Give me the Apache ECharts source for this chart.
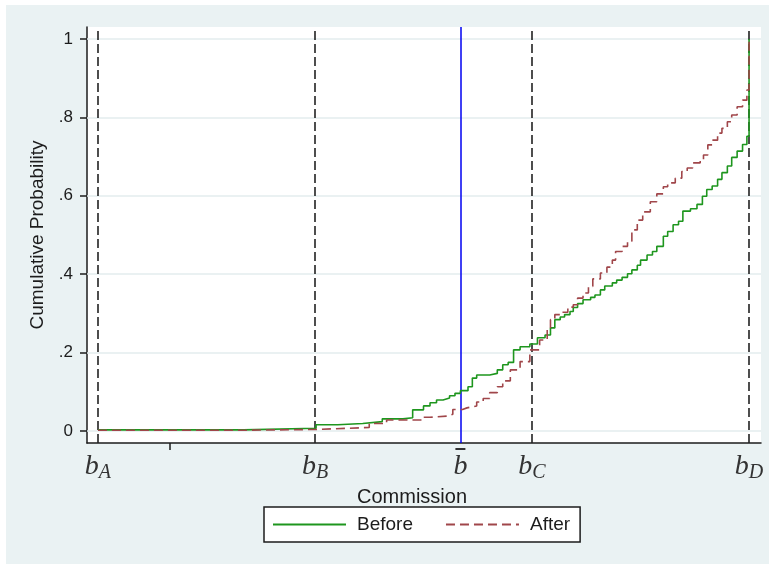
<!DOCTYPE html>
<html>
<head>
<meta charset="utf-8">
<script src="https://cdn.jsdelivr.net/npm/echarts@6/dist/echarts.min.js"></script>
<style>
html, body { margin: 0; padding: 0; background: #fff; }
#chart { position: absolute; left: 6px; top: 5px; width: 763px; height: 559px; }
</style>
</head>
<body>
<div id="chart"></div>
<script>
// commission thresholds on the x axis
const xTickValues = [0, 2, 3.34, 4, 6];
const xTickLabels = ['b_A', 'b_B', 'bbar', 'b_C', 'b_D'];
const xMinorTicks = [0.66];
const dashedLines = [0, 2, 4, 6];
const meanLine = 3.34;

const yTickValues = [0, 0.2, 0.4, 0.6, 0.8, 1];
const yTickLabels = ['0', '.2', '.4', '.6', '.8', '1'];

// empirical CDF, before
const beforeX = [0, 1.34, 2.01, 2.21, 2.44, 2.62, 2.81, 2.90, 3.00, 3.06, 3.12, 3.18, 3.24, 3.29, 3.34, 3.41, 3.45, 3.49, 3.61, 3.68, 3.73, 3.78, 3.83, 3.89, 3.98, 4.05, 4.12, 4.17, 4.21, 4.26, 4.30, 4.35, 4.38, 4.42, 4.47, 4.54, 4.58, 4.63, 4.67, 4.74, 4.78, 4.83, 4.88, 4.92, 4.97, 5.00, 5.06, 5.11, 5.15, 5.21, 5.25, 5.30, 5.35, 5.39, 5.46, 5.52, 5.57, 5.61, 5.66, 5.71, 5.75, 5.80, 5.84, 5.89, 5.94, 5.98, 6.00, 6.00];
const beforeY = [0.003, 0.007, 0.016, 0.019, 0.024, 0.031, 0.034, 0.054, 0.064, 0.072, 0.079, 0.084, 0.090, 0.096, 0.103, 0.113, 0.135, 0.143, 0.147, 0.156, 0.169, 0.175, 0.207, 0.215, 0.222, 0.238, 0.245, 0.263, 0.284, 0.291, 0.297, 0.305, 0.315, 0.325, 0.335, 0.341, 0.347, 0.360, 0.370, 0.378, 0.385, 0.392, 0.401, 0.411, 0.423, 0.436, 0.449, 0.458, 0.471, 0.497, 0.509, 0.526, 0.535, 0.561, 0.567, 0.578, 0.599, 0.616, 0.625, 0.642, 0.659, 0.676, 0.698, 0.714, 0.731, 0.752, 0.763, 1.0];

// empirical CDF, after
const afterX = [0, 1.34, 2.01, 2.50, 2.66, 2.99, 3.06, 3.22, 3.27, 3.36, 3.40, 3.49, 3.55, 3.61, 3.68, 3.73, 3.80, 3.89, 3.98, 4.07, 4.14, 4.17, 4.21, 4.28, 4.33, 4.38, 4.42, 4.47, 4.52, 4.56, 4.63, 4.69, 4.74, 4.77, 4.83, 4.88, 4.92, 4.97, 5.02, 5.09, 5.15, 5.21, 5.25, 5.32, 5.38, 5.43, 5.48, 5.55, 5.58, 5.62, 5.66, 5.71, 5.75, 5.80, 5.84, 5.89, 5.94, 5.98, 6.00, 6.00];
const afterY = [0.002, 0.004, 0.009, 0.019, 0.028, 0.035, 0.038, 0.043, 0.055, 0.059, 0.064, 0.074, 0.083, 0.098, 0.113, 0.128, 0.156, 0.177, 0.207, 0.232, 0.262, 0.284, 0.297, 0.303, 0.316, 0.322, 0.339, 0.352, 0.369, 0.388, 0.403, 0.418, 0.436, 0.458, 0.471, 0.484, 0.513, 0.538, 0.559, 0.585, 0.605, 0.623, 0.633, 0.645, 0.662, 0.671, 0.684, 0.692, 0.704, 0.730, 0.742, 0.760, 0.772, 0.789, 0.806, 0.827, 0.844, 0.870, 0.885, 1.0];

const sans = "'Liberation Sans', Arial, sans-serif";
const serif = "'Liberation Serif', 'DejaVu Serif', serif";
const ink = '#1c1c1c';

function pairs (xs, ys) {
  return xs.map(function (x, i) { return [x, ys[i]] })
}

function xLabel (value) {
  const i = xTickValues.indexOf(value)
  if (i < 0) return ''
  const lab = xTickLabels[i]
  if (lab === 'bbar') return '{bar| }\n{b|b}'
  const parts = lab.split('_')
  return '{gap| }\n{b|' + parts[0] + '}{s|' + parts[1] + '}'
}

const chart = echarts.init(document.getElementById('chart'))
chart.setOption({
  animation: false,
  backgroundColor: '#EAF2F3',
  grid: {
    left: 81,
    right: 8,
    top: 22,
    bottom: 121,
    show: true,
    backgroundColor: '#fff',
    borderWidth: 0
  },
  legend: {
    data: ['Before', 'After'],
    left: 258,
    top: 502,
    orient: 'horizontal',
    backgroundColor: '#fff',
    borderColor: ink,
    borderWidth: 1.5,
    borderRadius: 0,
    padding: [8, 10, 8, 8],
    itemWidth: 73,
    itemHeight: 18,
    itemGap: 32,
    itemStyle: { opacity: 0, color: 'transparent', borderWidth: 0 },
    textStyle: {
      fontFamily: sans,
      fontSize: 19,
      color: ink,
      padding: [0, 0, 0, 6]
    }
  },
  xAxis: {
    type: 'value',
    min: -0.101,
    max: 6.11,
    name: 'Commission',
    nameLocation: 'middle',
    nameGap: 33,
    nameTextStyle: {
      fontFamily: sans,
      fontSize: 20,
      color: ink,
      padding: [0, 24, 0, 0]
    },
    axisLine: { onZero: false, lineStyle: { color: ink, width: 1.5 } },
    axisTick: {
      show: true,
      length: 7,
      customValues: xMinorTicks,
      lineStyle: { color: ink, width: 1.5 }
    },
    axisLabel: {
      customValues: xTickValues,
      margin: 4,
      formatter: xLabel,
      rich: {
        gap: { height: 2, lineHeight: 4, fontSize: 2 },
        bar: { width: 10, height: 2, lineHeight: 4, fontSize: 2, backgroundColor: '#333' },
        b: { fontFamily: serif, fontStyle: 'italic', fontSize: 28, lineHeight: 32, color: '#333' },
        s: { fontFamily: serif, fontStyle: 'italic', fontSize: 20, lineHeight: 20, verticalAlign: 'bottom', color: '#333' }
      }
    },
    splitLine: { show: false }
  },
  yAxis: {
    type: 'value',
    min: -0.0306,
    max: 1.0306,
    name: 'Cumulative Probability',
    nameLocation: 'middle',
    nameGap: 40,
    nameTextStyle: { fontFamily: sans, fontSize: 19, color: ink },
    axisLine: { show: true, onZero: false, lineStyle: { color: ink, width: 1.5 } },
    axisTick: {
      show: true,
      length: 7,
      customValues: yTickValues,
      lineStyle: { color: ink, width: 1.5 }
    },
    axisLabel: {
      customValues: yTickValues,
      margin: 14,
      fontFamily: sans,
      fontSize: 17,
      color: ink,
      formatter: function (v) {
        const i = yTickValues.indexOf(v)
        return i < 0 ? '' : yTickLabels[i]
      }
    },
    splitLine: { show: false }
  },
  series: [
    {
      name: 'ref',
      type: 'line',
      data: [],
      z: 1,
      silent: true,
      markLine: {
        z: 1,
        silent: true,
        symbol: 'none',
        animation: false,
        label: { show: false },
        data: yTickValues.map(function (v) {
          return { yAxis: v, lineStyle: { color: '#E3ECEE', width: 1.5, type: 'solid' } }
        }).concat(dashedLines.map(function (v) {
          return { xAxis: v, lineStyle: { color: '#222', width: 1.6, type: [9, 4] } }
        })).concat([
          { xAxis: meanLine, lineStyle: { color: '#0000F0', width: 1.5, type: 'solid' } }
        ])
      }
    },
    {
      name: 'Before',
      type: 'line',
      step: 'end',
      z: 3,
      showSymbol: false,
      symbol: 'none',
      color: '#1E961E',
      lineStyle: { color: '#1E961E', width: 1.6 },
      data: pairs(beforeX, beforeY)
    },
    {
      name: 'After',
      type: 'line',
      step: 'end',
      z: 4,
      showSymbol: false,
      symbol: 'none',
      color: '#A0464A',
      lineStyle: { color: '#A0464A', width: 1.6, type: [9, 5] },
      data: pairs(afterX, afterY)
    }
  ]
})
</script>
</body>
</html>
